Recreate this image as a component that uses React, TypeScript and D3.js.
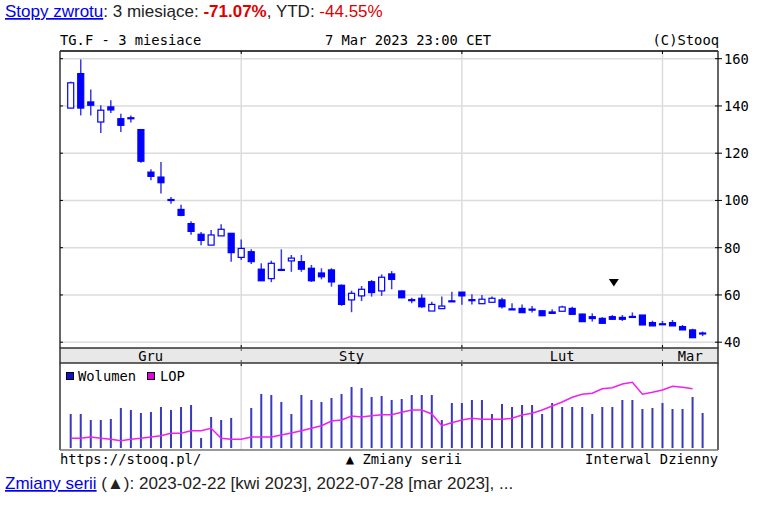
import React from "react";
import * as d3 from "d3";

const dates = [
  "2022-12-07","2022-12-08","2022-12-09","2022-12-12","2022-12-13","2022-12-14","2022-12-15","2022-12-16",
  "2022-12-19","2022-12-20","2022-12-21","2022-12-22","2022-12-23","2022-12-27","2022-12-28","2022-12-29","2022-12-30",
  "2023-01-02","2023-01-03","2023-01-04","2023-01-05","2023-01-06","2023-01-09","2023-01-10","2023-01-11","2023-01-12",
  "2023-01-13","2023-01-16","2023-01-17","2023-01-18","2023-01-19","2023-01-20","2023-01-23","2023-01-24","2023-01-25",
  "2023-01-26","2023-01-27","2023-01-30","2023-01-31",
  "2023-02-01","2023-02-02","2023-02-03","2023-02-06","2023-02-07","2023-02-08","2023-02-09","2023-02-10","2023-02-13",
  "2023-02-14","2023-02-15","2023-02-16","2023-02-17","2023-02-20","2023-02-21","2023-02-22","2023-02-23","2023-02-24",
  "2023-02-27","2023-02-28",
  "2023-03-01","2023-03-02","2023-03-03","2023-03-06","2023-03-07",
];

const open = [139.1,153.7,141.7,133.2,139.6,134.6,135.0,130.0,112.0,109.9,100.4,96.2,90.2,85.7,81.1,85.0,86.1,75.9,78.3,70.9,66.9,70.8,74.4,74.1,71.3,69.3,70.6,64.1,57.9,59.6,65.6,61.7,68.9,61.7,58.0,58.6,53.2,54.2,57.5,61.2,58.0,56.3,56.9,57.9,54.1,54.3,54.0,53.3,52.8,53.1,54.3,51.9,50.8,50.1,50.8,50.5,50.9,51.5,48.3,47.8,48.3,46.6,45.2,43.9];
const high = [150.3,159.7,147.0,140.3,142.4,136.7,136.0,130.0,113.2,116.3,101.5,98.2,91.2,86.6,87.5,89.9,86.1,83.5,79.3,73.4,74.5,79.3,76.9,76.9,72.7,71.3,71.3,64.4,61.8,63.8,66.3,68.7,70.1,61.9,58.8,60.3,57.1,59.3,61.4,61.2,60.3,60.0,59.3,58.8,56.5,56.0,55.3,53.3,53.9,55.4,55.0,52.0,52.2,50.6,51.5,51.5,52.6,51.5,49.1,49.0,49.4,47.3,45.7,44.5];
const low = [139.0,136.0,136.0,128.6,137.0,129.0,133.0,116.0,108.5,102.9,98.6,93.3,85.5,81.0,81.0,85.0,74.1,74.8,73.1,66.0,65.4,70.5,69.8,69.8,65.5,66.6,63.5,55.4,52.7,57.4,59.3,59.6,62.4,58.6,56.5,54.6,53.2,54.2,57.3,55.8,56.0,56.3,56.9,54.3,53.8,52.5,52.6,51.2,52.2,53.1,51.8,48.6,48.7,48.0,49.7,49.0,50.7,47.3,46.9,47.4,46.9,45.2,41.9,42.6];
const close = [149.8,139.1,140.3,138.2,138.3,131.8,134.8,116.6,110.2,107.5,100.2,93.7,86.9,83.1,85.4,87.8,77.9,79.7,74.1,66.0,73.4,70.5,75.6,70.9,66.0,67.7,65.5,56.0,60.7,62.4,61.0,67.5,66.6,58.8,57.8,55.0,56.0,55.3,57.3,59.6,57.8,58.2,58.6,55.0,53.8,52.5,53.8,51.2,52.2,54.9,51.8,48.7,50.0,48.0,49.7,49.7,50.7,47.3,46.9,47.4,46.9,45.2,41.9,43.7];

const volume = [34,34,28,28,29,40,38,35,36,41,38,41,43,10,31,28,30,0,40,54,53,46,34,53,48,46,50,54,61,60,51,52,48,49,53,53,53,28,45,45,48,48,34,44,41,43,43,34,45,41,41,41,34,41,41,48,48,39,40,45,39,39,51,35];
const lop = [9.7,9.7,11,9.7,8.7,7.3,8.7,9.7,11,12.3,14.7,14.7,17.3,17.3,19.7,9.7,8.7,8.7,11,11,11,13,15,17.3,19.7,22.3,27,28,32,31,32.3,33.3,33.3,35.7,38,38,34,22.3,25.3,28,29.7,28.7,28.7,28.7,29.7,33,34.7,38,42,46,50.7,53.7,54.7,59.3,60.3,64,65.7,53.7,55.7,58,61.7,60.7,59.3,null];

const yTicks = [40, 60, 80, 100, 120, 140, 160];
const monthNames = ["Sty","Lut","Mar","Kwi","Maj","Cze","Lip","Sie","Wrz","Paź","Lis","Gru"];
const seriesChangeDate = "2023-02-22";

const MONO = "'DejaVu Sans Mono', monospace";
const SANS = "'Liberation Sans', Arial, sans-serif";
const MS = 13.8;

export default function App() {
  const L = 60, R = 718, T = 51, B = 348;
  const bandB = 363, volB = 450;
  const x = d3.scalePoint<string>().domain(dates).range([70.7, 702.6]);
  const y = d3.scaleLinear().domain([40, 160]).range([342.2, 58.7]);
  const vy = d3.scaleLinear().domain([0, 84]).range([448, 364]);

  const blue = "#0000ff";
  const wick = "#3b3be0";

  const monthStarts: { idx: number; m: number }[] = [];
  dates.forEach((d, i) => {
    const m = +d.slice(5, 7) - 1;
    if (i > 0 && m !== +dates[i - 1].slice(5, 7) - 1) monthStarts.push({ idx: i, m });
  });
  const bounds = [L, ...monthStarts.map((s) => x(dates[s.idx])!), R];
  const firstMonth = +dates[0].slice(5, 7) - 1;
  const monthLabels = [firstMonth, ...monthStarts.map((s) => s.m)].map((m, i) => ({
    label: monthNames[m],
    cx: (bounds[i] + bounds[i + 1]) / 2,
  }));

  const lopLine = d3
    .line<number | null>()
    .defined((d) => d !== null)
    .x((_, i) => x(dates[i])!)
    .y((d) => vy(d as number));

  const markIdx = dates.indexOf(seriesChangeDate);
  const mx = x(seriesChangeDate)! + 1.5;
  const my = y(high[markIdx]) - 28.5;

  return (
    <svg width={771} height={509} style={{ position: "absolute", left: 0, top: 0, background: "#fff" }}>
      <text x={5} y={17} fontFamily={SANS} fontSize={17} fill="#222">
        <tspan fill="#0000ee" textDecoration="underline">Stopy zwrotu</tspan>
        <tspan>: 3 miesiące: </tspan>
        <tspan fill="#dd0000" fontWeight="bold">-71.07%</tspan>
        <tspan>, YTD: </tspan>
        <tspan fill="#dd0000">-44.55%</tspan>
      </text>

      <text x={60} y={45} fontFamily={MONO} fontSize={MS} fill="#000">TG.F - 3 miesiace</text>
      <text x={408} y={45} fontFamily={MONO} fontSize={MS} fill="#000" textAnchor="middle">7 Mar 2023 23:00 CET</text>
      <text x={719} y={45} fontFamily={MONO} fontSize={MS} fill="#000" textAnchor="end">(C)Stooq</text>

      <rect x={L} y={T} width={R - L} height={B - T} fill="#fff" />
      {yTicks.map((v) => (
        <line key={"g" + v} x1={L} x2={R} y1={y(v)} y2={y(v)} stroke="#dcdcdc" strokeWidth={1.5} />
      ))}
      {monthStarts.map((s) => (
        <line key={"mg" + s.idx} x1={x(dates[s.idx])} x2={x(dates[s.idx])} y1={T} y2={B} stroke="#dcdcdc" strokeWidth={1.5} />
      ))}

      {dates.map((d, i) => {
        const cx = x(d)!;
        const up = close[i] > open[i];
        const top = y(Math.max(open[i], close[i]));
        const bot = y(Math.min(open[i], close[i]));
        const h = Math.max(bot - top, 1);
        return (
          <g key={d}>
            <line x1={cx} x2={cx} y1={y(high[i])} y2={y(low[i])} stroke={wick} strokeWidth={1.5} />
            <rect x={cx - 3} y={top} width={6} height={h} fill={up ? "#fff" : blue} stroke={blue} strokeWidth={1.2} />
          </g>
        );
      })}

      <path d={`M${mx - 5},${my - 7.5} L${mx + 5},${my - 7.5} L${mx},${my} Z`} fill="#000" />

      <line x1={L} x2={R} y1={T} y2={T} stroke="#000" strokeWidth={1.5} />
      <line x1={L} x2={L} y1={T} y2={B} stroke="#333" strokeWidth={1.5} />
      <line x1={R} x2={R} y1={T} y2={B} stroke="#333" strokeWidth={1.5} />
      {yTicks.map((v) => (
        <g key={"t" + v}>
          <line x1={L} x2={L + 3} y1={y(v)} y2={y(v)} stroke="#000" />
          <line x1={R - 3} x2={R + 4} y1={y(v)} y2={y(v)} stroke="#000" />
          <text x={724} y={y(v) + 5} fontFamily={MONO} fontSize={MS} fill="#000">{v}</text>
        </g>
      ))}
      {monthStarts.map((s) => (
        <g key={"mt" + s.idx}>
          <line x1={x(dates[s.idx])} x2={x(dates[s.idx])} y1={T} y2={T + 3} stroke="#000" />
          <line x1={x(dates[s.idx])} x2={x(dates[s.idx])} y1={B - 3} y2={B} stroke="#000" />
        </g>
      ))}

      <rect x={L} y={B} width={R - L} height={bandB - B} fill="#e8e8e8" stroke="#333" strokeWidth={1.5} />
      {monthStarts.map((s) => (
        <g key={"bt" + s.idx}>
          <line x1={x(dates[s.idx])} x2={x(dates[s.idx])} y1={B} y2={B + 3} stroke="#555" />
          <line x1={x(dates[s.idx])} x2={x(dates[s.idx])} y1={bandB - 3} y2={bandB} stroke="#555" />
        </g>
      ))}
      {monthLabels.map((m) => (
        <text key={m.label} x={m.cx} y={360.5} fontFamily={MONO} fontSize={MS} textAnchor="middle" fill="#000">{m.label}</text>
      ))}

      {monthStarts.map((s) => (
        <line key={"vg" + s.idx} x1={x(dates[s.idx])} x2={x(dates[s.idx])} y1={bandB} y2={volB} stroke="#dcdcdc" strokeWidth={1.5} />
      ))}
      {monthStarts.map((s) => (
        <line key={"vt" + s.idx} x1={x(dates[s.idx])} x2={x(dates[s.idx])} y1={bandB} y2={bandB + 3} stroke="#000" />
      ))}
      {dates.map((d, i) =>
        volume[i] > 0 ? (
          <rect key={"v" + d} x={x(d)! - 1} y={vy(volume[i])} width={2} height={vy(0) - vy(volume[i])} fill="#3a3abf" />
        ) : null
      )}
      <path d={lopLine(lop) || ""} fill="none" stroke="#f020f0" strokeWidth={1.5} />
      <line x1={L} x2={L} y1={bandB} y2={volB} stroke="#333" strokeWidth={1.5} />
      <line x1={R} x2={R} y1={bandB} y2={volB} stroke="#333" strokeWidth={1.5} />
      <line x1={L} x2={R} y1={volB} y2={volB} stroke="#777" strokeWidth={1.5} />

      <rect x={66.5} y={372.5} width={7} height={7} fill="#1010d0" stroke="#000" strokeWidth={1} />
      <text x={78} y={381} fontFamily={MONO} fontSize={MS} fill="#000">Wolumen</text>
      <rect x={147.5} y={372.5} width={7} height={7} fill="#e000e0" stroke="#000" strokeWidth={1} />
      <text x={160} y={381} fontFamily={MONO} fontSize={MS} fill="#000">LOP</text>

      <text x={60} y={464} fontFamily={MONO} fontSize={MS} fill="#000">https://stooq.pl/</text>
      <text x={404} y={464} fontFamily={MONO} fontSize={MS} fill="#000" textAnchor="middle">▲ Zmiany serii</text>
      <text x={718} y={464} fontFamily={MONO} fontSize={MS} fill="#000" textAnchor="end">Interwal Dzienny</text>

      <text x={5} y={489} fontFamily={SANS} fontSize={17} fill="#222">
        <tspan fill="#0000ee" textDecoration="underline">Zmiany serii</tspan>
        <tspan> (▲): 2023-02-22 [kwi 2023], 2022-07-28 [mar 2023], ...</tspan>
      </text>
    </svg>
  );
}
